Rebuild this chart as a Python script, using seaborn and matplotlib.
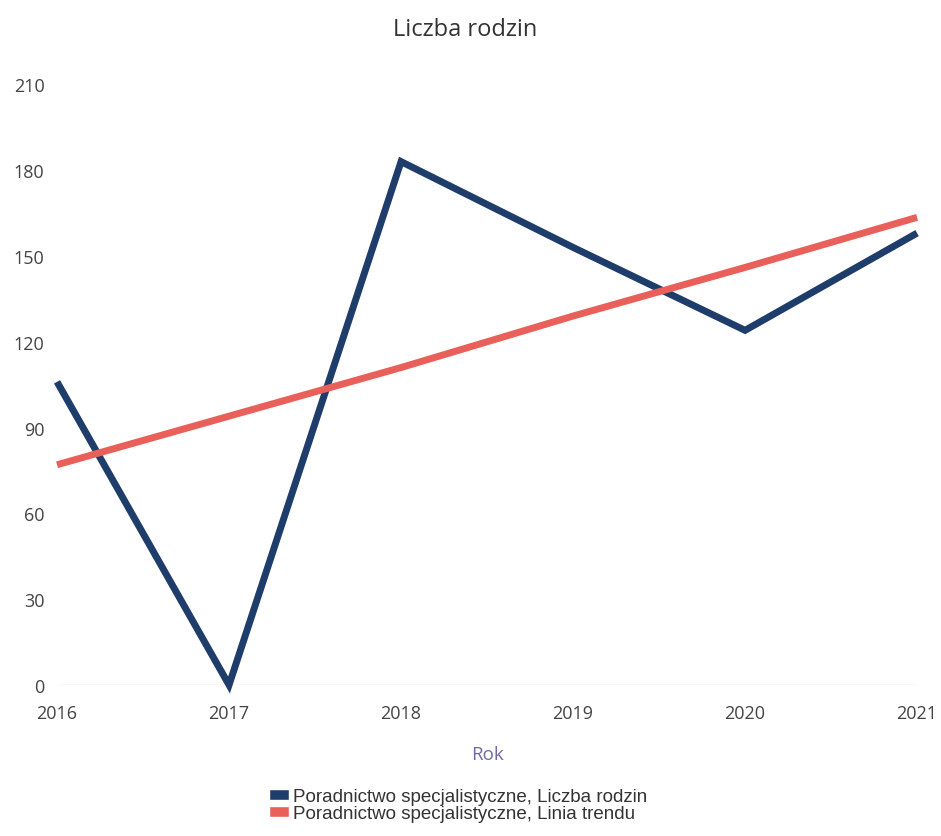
import pandas as pd
import seaborn as sns
import matplotlib.pyplot as plt
from matplotlib.patches import Patch

# data
years = [2016, 2017, 2018, 2019, 2020, 2021]
rodziny = [106, 0, 183, 153, 124, 158]
trend = [77, 94, 111, 129, 146, 163.5]
series_names = ['Poradnictwo specjalistyczne, Liczba rodzin',
                'Poradnictwo specjalistyczne, Linia trendu']
y_ticks = [0, 30, 60, 90, 120, 150, 180, 210]

NAVY = '#1f3d6b'
RED = '#e9605a'

sns.set_style('white')
plt.rcParams['font.family'] = ['Open Sans', 'DejaVu Sans']

df = pd.DataFrame({
    'Rok': years * 2,
    'value': rodziny + trend,
    'series': [series_names[0]] * len(years) + [series_names[1]] * len(years),
})

fig = plt.figure(figsize=(9.41, 8.37), dpi=100)
ax = fig.add_axes([0.0606, 0.1804, 0.914, 0.7176])

sns.lineplot(data=df, x='Rok', y='value', hue='series',
             palette=[NAVY, RED], linewidth=5, ax=ax, legend=False)
for line in ax.get_lines():
    line.set_solid_capstyle('butt')
    line.set_solid_joinstyle('miter')
    line.set_clip_on(False)

ax.set_xlim(2016, 2021)
ax.set_ylim(0, 210)
ax.set_xticks(years)
ax.set_yticks(y_ticks)
ax.set_xticklabels([str(y) for y in years])
ax.tick_params(axis='both', length=0, labelsize=13, labelcolor='#444444')
ax.tick_params(axis='x', pad=14)
ax.tick_params(axis='y', pad=9)

for s in ax.spines.values():
    s.set_visible(False)
ax.axhline(0, color='#dddddd', linewidth=1, zorder=0)

ax.set_xlabel('Rok', fontsize=13.5, color='#6b6aa6', labelpad=16)
ax.set_ylabel('')
fig.suptitle('Liczba rodzin', x=0.494, y=0.978, fontsize=17, color='#333333')

handles = [Patch(facecolor=NAVY), Patch(facecolor=RED)]
leg = fig.legend(handles, series_names, loc='upper center',
                 bbox_to_anchor=(0.487, 0.068), ncol=1, frameon=False,
                 handlelength=1.05, handleheight=0.55, handletextpad=0.25,
                 labelspacing=0.0, borderpad=0,
                 prop={'family': 'Liberation Sans', 'size': 13.5})
for t in leg.get_texts():
    t.set_color('#333333')

fig.savefig('out.png', dpi=100)
